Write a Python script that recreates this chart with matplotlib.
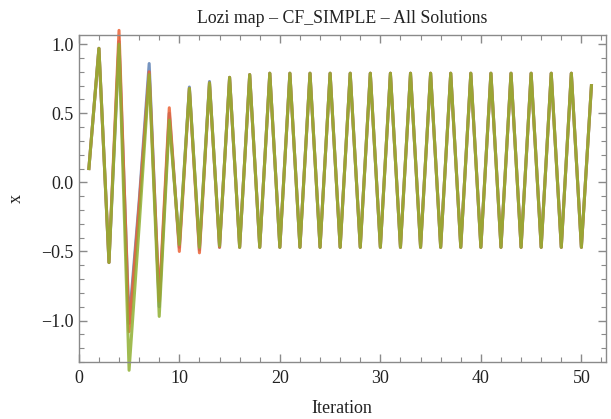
import numpy as np
import matplotlib.pyplot as plt
from matplotlib.ticker import MultipleLocator

plt.rcParams['font.family'] = ['Liberation Serif', 'DejaVu Serif']

iterations = list(range(1, 52))

# tail of the orbit (iterations 16..51), shared by all solutions
tail = [-0.47, 0.78, -0.47, 0.79, -0.47, 0.79, -0.47, 0.79, -0.47, 0.79,
        -0.47, 0.79, -0.47, 0.79, -0.47, 0.79, -0.47, 0.79, -0.47, 0.79,
        -0.47, 0.79, -0.47, 0.79, -0.47, 0.79, -0.47, 0.79, -0.47, 0.79,
        -0.47, 0.79, -0.47, 0.79, -0.47, 0.70]

x_blue = [0.10, 0.97, -0.58, 1.02, -1.02, -0.14, 0.86, -0.90, 0.50, -0.47,
          0.69, -0.49, 0.73, -0.47, 0.76] + tail
x_red = [0.10, 0.97, -0.58, 1.10, -1.08, -0.17, 0.80, -0.86, 0.54, -0.50,
         0.68, -0.51, 0.72, -0.47, 0.76] + tail
x_green = [0.10, 0.97, -0.58, 1.00, -1.36, -0.32, 0.78, -0.97, 0.45, -0.45,
           0.68, -0.47, 0.72, -0.46, 0.76] + tail

series = [(x_blue, '#5E81B5'), (x_red, '#EB6235'), (x_green, '#8FB032')]

fig = plt.figure(figsize=(6.11, 4.19), dpi=100)
ax = fig.add_axes([0.129, 0.136, 0.862, 0.780])

for vals, col in series:
    ax.plot(iterations, vals, color=col, lw=2.2, alpha=0.85, clip_on=False,
            solid_joinstyle='round')

ax.set_xlim(0, 52.4)
ax.set_ylim(-1.30, 1.065)

ax.xaxis.set_major_locator(MultipleLocator(10))
ax.xaxis.set_minor_locator(MultipleLocator(2))
ax.yaxis.set_major_locator(MultipleLocator(0.5))
ax.yaxis.set_minor_locator(MultipleLocator(0.1))
ax.yaxis.set_major_formatter(plt.FuncFormatter(lambda v, p: f'{v:.1f}'.replace('-', '\u2212')))

for s in ax.spines.values():
    s.set_color('#8a8a8a')
    s.set_linewidth(1.0)
ax.tick_params(which='both', direction='in', top=True, right=True,
               color='#8a8a8a', labelsize=13, labelcolor='#222222')
ax.tick_params(axis='x', which='major', pad=6)
ax.tick_params(which='major', length=6, width=1.0)
ax.tick_params(which='minor', length=3.5, width=0.8)

ax.set_title('Lozi map \u2013 CF_SIMPLE \u2013 All Solutions', fontsize=12.8, color='#222222', pad=9)
ax.set_xlabel('Iteration', fontsize=13, color='#222222', labelpad=9)
ax.set_ylabel('x', fontsize=13, color='#222222', labelpad=12)

fig.savefig('out.png', dpi=100)
